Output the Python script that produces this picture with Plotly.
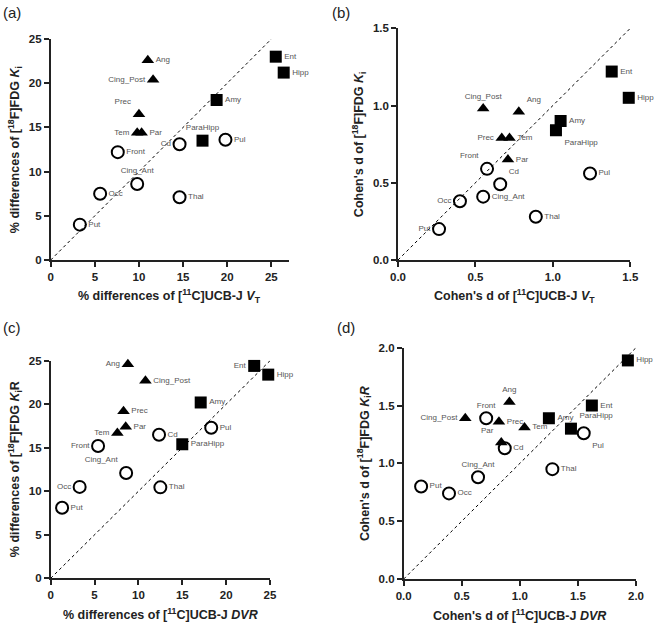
import plotly.graph_objects as go

# Regions and their marker group
regions = ["Ang", "Cing_Post", "Prec", "Tem", "Par",
           "Ent", "Hipp", "Amy", "ParaHipp",
           "Front", "Cd", "Pul", "Cing_Ant", "Occ", "Thal", "Put"]
groups = ["tri"] * 5 + ["sq"] * 4 + ["circ"] * 7

# (a) % differences, UCB-J VT vs FDG Ki
a_x = [11.0, 11.6, 10.0, 9.8, 10.3, 25.5, 26.4, 18.8, 17.2, 7.6, 14.6, 19.8, 9.8, 5.6, 14.6, 3.3]
a_y = [22.6, 20.4, 16.5, 14.4, 14.4, 23.0, 21.2, 18.1, 13.5, 12.2, 13.1, 13.6, 8.6, 7.5, 7.1, 4.0]

# (b) Cohen's d, UCB-J VT vs FDG Ki
b_x = [0.78, 0.55, 0.67, 0.72, 0.71, 1.38, 1.49, 1.05, 1.02, 0.575, 0.66, 1.24, 0.55, 0.40, 0.89, 0.265]
b_y = [0.96, 0.98, 0.79, 0.79, 0.65, 1.22, 1.05, 0.90, 0.84, 0.59, 0.49, 0.56, 0.41, 0.38, 0.28, 0.20]

# (c) % differences, UCB-J DVR vs FDG KiR
c_x = [8.8, 10.8, 8.3, 7.6, 8.55, 23.2, 24.8, 17.1, 15.0, 5.4, 12.35, 18.3, 8.6, 3.3, 12.5, 1.3]
c_y = [24.6, 22.7, 19.2, 16.7, 17.4, 24.4, 23.4, 20.2, 15.4, 15.2, 16.5, 17.3, 12.1, 10.5, 10.45, 8.1]

# (d) Cohen's d, UCB-J DVR vs FDG KiR
d_x = [0.91, 0.53, 0.82, 1.04, 0.84, 1.62, 1.93, 1.25, 1.44, 0.71, 0.87, 1.55, 0.64, 0.39, 1.28, 0.15]
d_y = [1.53, 1.39, 1.36, 1.31, 1.18, 1.50, 1.89, 1.39, 1.30, 1.39, 1.13, 1.26, 0.88, 0.74, 0.95, 0.80]

# label placement per region for each panel
a_pos = ["middle right", "middle left", "top left", "middle left", "middle right",
         "middle right", "middle right", "middle right", "top center",
         "middle right", "middle left", "middle right", "top center", "middle right", "middle right", "middle right"]
b_pos = ["top right", "top center", "middle left", "middle right", "middle right",
         "middle right", "middle right", "middle right", "bottom right",
         "top left", "top right", "middle right", "middle right", "middle left", "middle right", "middle left"]
c_pos = ["middle left", "middle right", "middle right", "middle left", "middle right",
         "middle left", "middle right", "middle right", "middle right",
         "middle left", "middle right", "middle right", "top left", "middle left", "middle right", "middle right"]
d_pos = ["top center", "middle left", "middle right", "middle right", "top left",
         "middle right", "middle right", "middle right", "top right",
         "top center", "middle right", "bottom right", "top center", "middle right", "middle right", "middle right"]

W, H = 654, 624


def fx(px):
    return px / W


def fy(py):
    return 1 - py / H


FONT = "Liberation Sans, Arial, sans-serif"
marker_style = {
    "tri": dict(symbol="triangle-up", size=11, color="black", line=dict(width=0)),
    "sq": dict(symbol="square", size=12, color="black", line=dict(width=0)),
    "circ": dict(symbol="circle-open", size=12, color="black", line=dict(width=2)),
}

# plot boxes in page pixels: left, right, top, bottom; y-title offset
panels = [
    ("a", a_x, a_y, a_pos, 27, 25, 5, None, (50.7, 289, 39, 260), 36,
     "% differences of [<sup>11</sup>C]UCB-J <i>V</i><sub>T</sub>",
     "% differences of [<sup>18</sup>F]FDG <i>K</i><sub>i</sub>"),
    ("b", b_x, b_y, b_pos, 1.5, 1.5, 0.5, ".1f", (398, 630.3, 28.3, 260), 39,
     "Cohen's d of [<sup>11</sup>C]UCB-J <i>V</i><sub>T</sub>",
     "Cohen's d of [<sup>18</sup>F]FDG <i>K</i><sub>i</sub>"),
    ("c", c_x, c_y, c_pos, 25, 25, 5, None, (50.7, 270, 360.7, 578.3), 36,
     "% differences of [<sup>11</sup>C]UCB-J <i>DVR</i>",
     "% differences of [<sup>18</sup>F]FDG <i>K</i><sub>i</sub>R"),
    ("d", d_x, d_y, d_pos, 2.0, 2.0, 0.5, ".1f", (403.7, 636, 347.7, 579), 39,
     "Cohen's d of [<sup>11</sup>C]UCB-J <i>DVR</i>",
     "Cohen's d of [<sup>18</sup>F]FDG <i>K</i><sub>i</sub><i>R</i>"),
]

fig = go.Figure()
layout = {}
annotations = []

for i, (tag, xs, ys, pos, xmax, ymax, dtick, fmt, box, ytoff, xtitle, ytitle) in enumerate(panels):
    n = "" if i == 0 else str(i + 1)
    xa, ya = "x" + n, "y" + n
    left, right, top, bottom = box

    # identity line
    lim = min(xmax, ymax)
    fig.add_trace(go.Scatter(x=[0, lim], y=[0, lim], mode="lines", xaxis=xa, yaxis=ya,
                             line=dict(color="black", width=1, dash="dot"),
                             hoverinfo="skip", showlegend=False))

    for g in ["tri", "sq", "circ"]:
        idx = [k for k in range(len(regions)) if groups[k] == g]
        fig.add_trace(go.Scatter(
            x=[xs[k] for k in idx], y=[ys[k] for k in idx],
            text=[regions[k] for k in idx], textposition=[pos[k] for k in idx],
            mode="markers+text", xaxis=xa, yaxis=ya, cliponaxis=False,
            marker=marker_style[g],
            textfont=dict(family=FONT, size=8, color="#555555"),
            showlegend=False))

    axis_common = dict(showline=True, linecolor="#222222", linewidth=1.6, ticks="outside",
                       ticklen=5, tickwidth=1.6, tickcolor="#222222", showgrid=False,
                       zeroline=False, dtick=dtick, tick0=0, tickformat=fmt, automargin=False,
                       tickfont=dict(family=FONT, size=11.5, color="#222222", weight="bold"))
    layout["xaxis" + n] = dict(axis_common, domain=[fx(left), fx(right)], range=[0, xmax], anchor=ya)
    layout["yaxis" + n] = dict(axis_common, domain=[fy(bottom), fy(top)], range=[0, ymax], anchor=xa)

    annotations.append(dict(text="<b>" + xtitle + "</b>", xref="paper", yref="paper",
                            x=fx((left + right) / 2), y=fy(bottom + 36), showarrow=False,
                            xanchor="center", yanchor="middle",
                            font=dict(family=FONT, size=12.5, color="#222222")))
    annotations.append(dict(text="<b>" + ytitle + "</b>", xref="paper", yref="paper",
                            x=fx(left - ytoff), y=fy((top + bottom) / 2), showarrow=False,
                            textangle=-90, xanchor="center", yanchor="middle",
                            font=dict(family=FONT, size=12.5, color="#222222")))

# panel letters
for tag, px_, py_ in [("a", 1, 2), ("b", 330, 2), ("c", 1, 317), ("d", 335, 317)]:
    annotations.append(dict(text="(" + tag + ")", xref="paper", yref="paper", x=fx(px_), y=fy(py_),
                            xanchor="left", yanchor="top", showarrow=False,
                            font=dict(family=FONT, size=15, color="#222222")))

fig.update_layout(**layout)
fig.update_layout(width=W, height=H, margin=dict(l=0, r=0, t=0, b=0, autoexpand=False),
                  paper_bgcolor="white", plot_bgcolor="white",
                  annotations=annotations, showlegend=False)

# drop the browser's default page margin so the figure fills the window
fig.write_html("out.html", config={"displayModeBar": False},
               post_script="document.body.style.margin='0px';")
